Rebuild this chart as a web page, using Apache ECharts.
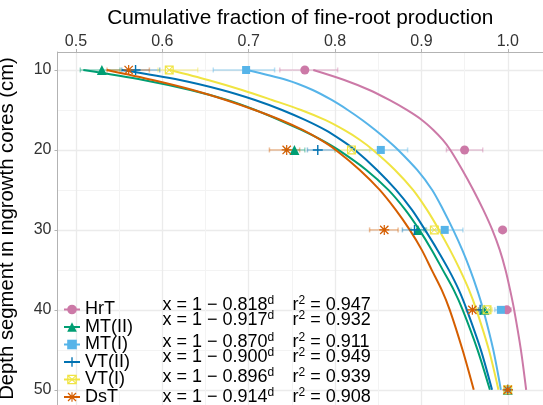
<!DOCTYPE html>
<html><head><meta charset="utf-8">
<script src="https://cdn.jsdelivr.net/npm/echarts@6/dist/echarts.min.js"></script>
<style>html,body{margin:0;padding:0;background:#fff}#c{width:543px;height:405px}</style>
</head><body><div id="c"></div>
<script>
// ---------- data ----------
const seriesNames = ['HrT', 'MT(II)', 'MT(I)', 'VT(II)', 'VT(I)', 'DsT'];
const depths = [10, 20, 30, 40, 50];
const xTicks = [0.5, 0.6, 0.7, 0.8, 0.9, 1.0];
const xMinorTicks = [0.55, 0.65, 0.75, 0.85, 0.95];
const yTicks = [10, 20, 30, 40, 50];
const yMinorTicks = [15, 25, 35, 45];

// observed cumulative fractions (markers) and error bar ends
const obsHrT  = [0.765, 0.950, 0.994, 0.999, 1.0];
const loHrT   = [0.736, 0.929, 0.990, 0.994, 1.0];
const hiHrT   = [0.803, 0.971, 0.998, 1.004, 1.0];
const obsMT2  = [0.530, 0.753, 0.896, 0.973, 1.0];
const loMT2   = [0.505, 0.742, 0.888, 0.966, 1.0];
const hiMT2   = [0.551, 0.765, 0.903, 0.980, 1.0];
const obsMT1  = [0.697, 0.853, 0.927, 0.992, 1.0];
const loMT1   = [0.659, 0.822, 0.906, 0.985, 1.0];
const hiMT1   = [0.730, 0.884, 0.948, 0.999, 1.0];
const obsVT2  = [0.569, 0.780, 0.892, 0.968, 1.0];
const loVT2   = [0.553, 0.768, 0.878, 0.962, 1.0];
const hiVT2   = [0.597, 0.800, 0.905, 0.975, 1.0];
const obsVT1  = [0.608, 0.819, 0.915, 0.976, 1.0];
const loVT1   = [0.595, 0.800, 0.905, 0.970, 1.0];
const hiVT1   = [0.641, 0.840, 0.925, 0.982, 1.0];
const obsDsT  = [0.561, 0.744, 0.857, 0.959, 1.0];
const loDsT   = [0.536, 0.724, 0.840, 0.952, 1.0];
const hiDsT   = [0.585, 0.759, 0.873, 0.966, 1.0];

// fitted curves
const curveDepths = [10, 11.25, 12.5, 13.75, 15, 16.25, 17.5, 18.75, 20, 22.5, 25, 27.5, 30, 32.5, 35, 37.5, 40, 45, 50];
const fitHrT = [0.7748, 0.8107, 0.8397, 0.8628, 0.8831, 0.9005, 0.9138, 0.9248, 0.9335, 0.9474, 0.9601, 0.9717, 0.9821, 0.9907, 0.9974, 1.0027, 1.0074, 1.0152, 1.0213];
const fitMT2 = [0.5085, 0.5779, 0.6324, 0.6752, 0.7076, 0.7354, 0.7609, 0.7841, 0.8038, 0.8362, 0.8617, 0.8814, 0.8976, 0.9119, 0.9247, 0.9374, 0.9478, 0.9650, 0.9793];
const fitMT1 = [0.6977, 0.7440, 0.7741, 0.7961, 0.8147, 0.8314, 0.8465, 0.8604, 0.8731, 0.8951, 0.9125, 0.9253, 0.9368, 0.9473, 0.9565, 0.9646, 0.9716, 0.9832, 0.9920];
const fitVT2 = [0.5529, 0.6204, 0.6691, 0.7073, 0.7386, 0.7652, 0.7884, 0.8069, 0.8231, 0.8486, 0.8706, 0.8891, 0.9042, 0.9185, 0.9317, 0.9433, 0.9526, 0.9688, 0.9818];
const fitVT1 = [0.6089, 0.6529, 0.6922, 0.7270, 0.7606, 0.7884, 0.8104, 0.8289, 0.8440, 0.8694, 0.8903, 0.9065, 0.9204, 0.9331, 0.9447, 0.9551, 0.9637, 0.9781, 0.9892];
const fitDsT = [0.5356, 0.5888, 0.6352, 0.6734, 0.7070, 0.7371, 0.7625, 0.7834, 0.8008, 0.8286, 0.8517, 0.8703, 0.8865, 0.9004, 0.9119, 0.9235, 0.9328, 0.9476, 0.9606];

// equation annotations
const eqBeta = ['0.818', '0.917', '0.870', '0.900', '0.896', '0.914'];
const eqR2   = ['0.947', '0.932', '0.911', '0.949', '0.939', '0.908'];

// ---------- styling ----------
const FONT = '"Liberation Sans", Arial, Helvetica, sans-serif';
const colors = ['#CC79A7', '#009E73', '#56B4E9', '#0072B2', '#F0E442', '#D55E00'];
const PLUS = 'path://M4.3,0H5.7V4.3H10V5.7H5.7V10H4.3V5.7H0V4.3H4.3Z';
const ASTER = 'path://M4.4,0H5.6V4.4H10V5.6H5.6V10H4.4V5.6H0V4.4H4.4Z M1.3,0.4L9.6,8.7L8.7,9.6L0.4,1.3Z M8.7,0.4L9.6,1.3L1.3,9.6L0.4,8.7Z';
const SQX = 'path://M0,0H10V10H0Z M1.3,1.3V8.7H8.7V1.3Z M1.3,0.6L9.4,8.7L8.7,9.4L0.6,1.3Z M8.7,0.6L9.4,1.3L1.3,9.4L0.6,8.7Z';
const symbols = ['circle', 'triangle', 'rect', PLUS, SQX, ASTER];
const symSizes = [9, 10, 8, 10, 9, 10];

const obs = [obsHrT, obsMT2, obsMT1, obsVT2, obsVT1, obsDsT];
const lo = [loHrT, loMT2, loMT1, loVT2, loVT1, loDsT];
const hi = [hiHrT, hiMT2, hiMT1, hiVT2, hiVT1, hiDsT];
const fits = [fitHrT, fitMT2, fitMT1, fitVT2, fitVT1, fitDsT];

const X_MIN = 0.4786, X_MAX = 1.0408, Y_MIN = 7.75, Y_MAX = 51.9;

const series = [];
seriesNames.forEach((name, i) => {
  const c = colors[i];
  series.push({
    name: name + ' error', type: 'custom', z: 1,
    data: depths.map((d, k) => [lo[i][k], hi[i][k], d]).filter(r => r[1] > r[0]),
    encode: { x: [0, 1], y: 2 },
    renderItem: (params, api) => {
      const a = api.coord([api.value(0), api.value(2)]);
      const b = api.coord([api.value(1), api.value(2)]);
      const st = { stroke: c, lineWidth: 1.5, opacity: 0.4 };
      return { type: 'group', children: [
        { type: 'line', shape: { x1: a[0], y1: a[1], x2: b[0], y2: b[1] }, style: st },
        { type: 'line', shape: { x1: a[0], y1: a[1] - 2.5, x2: a[0], y2: a[1] + 2.5 }, style: st },
        { type: 'line', shape: { x1: b[0], y1: b[1] - 2.5, x2: b[0], y2: b[1] + 2.5 }, style: st }
      ] };
    }
  });
});
seriesNames.forEach((name, i) => {
  series.push({
    name: name, type: 'line', z: 2, smooth: 0.3,
    symbol: symbols[i], showSymbol: false,
    itemStyle: { color: colors[i] },
    lineStyle: { color: colors[i], width: 2 },
    data: curveDepths.map((d, k) => [fits[i][k], d]),
    silent: true
  });
});
seriesNames.forEach((name, i) => {
  series.push({
    name: name + ' obs', type: 'scatter', z: 3,
    symbol: symbols[i], symbolSize: symSizes[i],
    itemStyle: { color: colors[i], opacity: 1 },
    data: depths.map((d, k) => [obs[i][k], d])
  });
});

const richBase = {
  n: { fontSize: 18, fontFamily: FONT, color: '#000', lineHeight: 20 },
  s: { fontSize: 12, fontFamily: FONT, color: '#000', verticalAlign: 'top', lineHeight: 20 }
};
const eqRowY = [305, 320, 341.7, 356.7, 376.7, 396.7];
const graphics = [];
eqBeta.forEach((b, i) => {
  graphics.push({ type: 'text', x: 162.5, y: eqRowY[i], z: 10,
    style: { text: '{n|x = 1 \u2212 ' + b + '}{s|d}', rich: richBase, verticalAlign: 'middle', align: 'left' } });
  graphics.push({ type: 'text', x: 292.5, y: eqRowY[i], z: 10,
    style: { text: '{n|r}{s|2}{n| = ' + eqR2[i] + '}', rich: richBase, verticalAlign: 'middle', align: 'left' } });
});

const chart = echarts.init(document.getElementById('c'), null, { renderer: 'canvas' });
chart.setOption({
  animation: false,
  backgroundColor: '#fff',
  textStyle: { fontFamily: FONT },
  grid: { left: 57.5, top: 52, right: 0, bottom: 0, containLabel: false, outerBoundsMode: 'none' },
  xAxis: [{
    type: 'value', position: 'top', min: X_MIN, max: X_MAX,
    name: 'Cumulative fraction of fine-root production', nameLocation: 'middle', nameGap: 18,
    nameTextStyle: { fontSize: 20.8, color: '#000', fontFamily: FONT },
    axisLine: { show: true, lineStyle: { color: '#b3b3b3', width: 1 } },
    axisTick: { show: true, length: 3, customValues: xTicks, lineStyle: { color: '#b3b3b3' } },
    axisLabel: { customValues: xTicks, fontSize: 16, color: '#333', margin: 2, fontFamily: FONT,
      formatter: v => v.toFixed(1) },
    splitLine: { show: true, lineStyle: { color: '#ebebeb', width: 1.3 } }
  }, {
    type: 'value', position: 'bottom', min: X_MIN, max: X_MAX,
    axisLine: { show: false }, axisLabel: { show: false },
    axisTick: { show: false, customValues: xMinorTicks },
    splitLine: { show: true, lineStyle: { color: '#f3f3f3', width: 1 } }
  }],
  yAxis: [{
    type: 'value', inverse: true, min: Y_MIN, max: Y_MAX,
    name: 'Depth segment in ingrowth cores (cm)', nameLocation: 'middle', nameGap: 40,
    nameTextStyle: { fontSize: 20.3, color: '#000', fontFamily: FONT },
    axisLine: { show: true, lineStyle: { color: '#b3b3b3', width: 1 } },
    axisTick: { show: true, length: 3, customValues: yTicks, lineStyle: { color: '#b3b3b3' } },
    axisLabel: { customValues: yTicks, fontSize: 16, color: '#333', margin: 6, fontFamily: FONT },
    splitLine: { show: true, lineStyle: { color: '#ebebeb', width: 1.3 } }
  }, {
    type: 'value', position: 'right', inverse: true, min: Y_MIN, max: Y_MAX,
    axisLine: { show: false }, axisLabel: { show: false },
    axisTick: { show: false, customValues: yMinorTicks },
    splitLine: { show: true, lineStyle: { color: '#f3f3f3', width: 1 } }
  }],
  legend: {
    orient: 'vertical', left: 63, top: 300.5, height: 160, padding: 0,
    itemWidth: 16, itemHeight: 12, itemGap: -0.5,
    data: seriesNames, selectedMode: false,
    textStyle: { fontSize: 18, lineHeight: 17.7, color: '#000', fontFamily: FONT }
  },
  series: series,
  graphic: graphics
});
</script></body></html>
